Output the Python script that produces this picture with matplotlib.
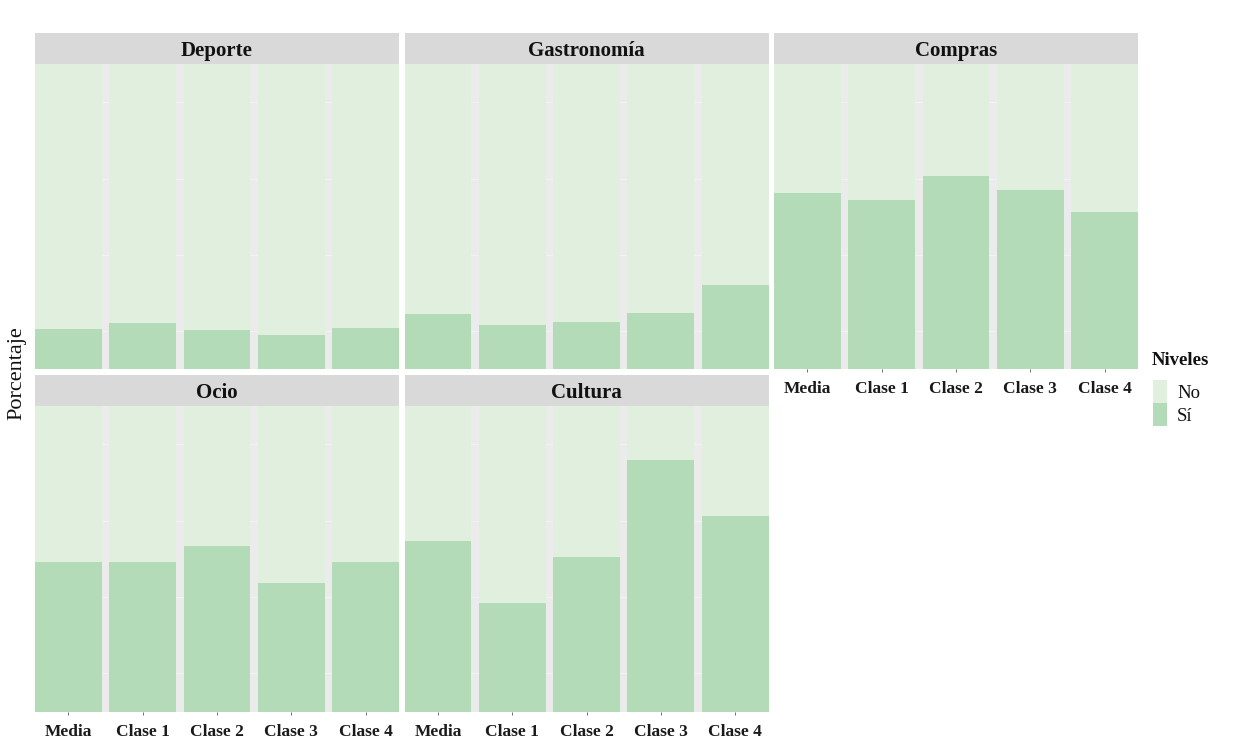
import matplotlib
matplotlib.use("Agg")
import matplotlib.pyplot as plt
from matplotlib.patches import Rectangle
import numpy as np

plt.rcParams['font.family'] = ['Liberation Serif', 'DejaVu Serif']

categorias = ["Deporte", "Gastronomía", "Compras", "Ocio", "Cultura"]
grupos = ["Media", "Clase 1", "Clase 2", "Clase 3", "Clase 4"]
si_deporte = [13.3, 15.3, 12.8, 11.1, 13.6]
si_gastronomia = [18.1, 14.6, 15.4, 18.6, 27.7]
si_compras = [57.7, 55.6, 63.3, 58.7, 51.5]
si_ocio = [48.9, 48.9, 54.2, 42.0, 49.1]
si_cultura = [55.8, 35.5, 50.7, 82.3, 64.0]
niveles = ["No", "Sí"]

series_si = [si_deporte, si_gastronomia, si_compras, si_ocio, si_cultura]

C_NO = "#E1F0DE"
C_SI = "#B3DBB8"
C_BG = "#EBEBEB"
C_STRIP = "#D9D9D9"

W, H = 1234, 756
fig = plt.figure(figsize=(W / 100, H / 100), dpi=100)

col_left = [35, 404.5, 774]
pw = 364
rows = [(33.3, 64.3, 369.3), (375, 406, 711.7)]  # strip top, panel top, panel bottom

def fx(px):
    return px / W

def fy(py):
    return 1 - py / H

pos = [(0, 0), (0, 1), (0, 2), (1, 0), (1, 1)]
show_x = [False, False, True, True, True]

x = np.arange(len(grupos))
for i, (cat, si) in enumerate(zip(categorias, series_si)):
    r, c = pos[i]
    st, pt, pb = rows[r]
    left = col_left[c]
    ax = fig.add_axes([fx(left), fy(pb), pw / W, (pb - pt) / H])
    ax.set_facecolor(C_BG)
    for g in [12.5, 37.5, 62.5, 87.5]:
        ax.axhline(g, color="#F4F4F4", lw=0.6, zorder=0.5)
    si_arr = np.array(si)
    no_arr = 100 - si_arr
    ax.bar(x, si_arr, width=0.9, color=C_SI, zorder=2, linewidth=0)
    ax.bar(x, no_arr, bottom=si_arr, width=0.9, color=C_NO, zorder=2, linewidth=0)
    ax.set_xlim(-0.45, len(grupos) - 0.55)
    ax.set_ylim(0, 100)
    ax.set_yticks([])
    for s in ax.spines.values():
        s.set_visible(False)
    if show_x[i]:
        ax.set_xticks(x)
        ax.set_xticklabels(grupos, fontsize=12.5, fontweight="bold", color="#1a1a1a")
        ax.tick_params(axis="x", length=2.5, width=0.6, color="#555555", pad=6)
    else:
        ax.set_xticks([])
    # strip
    sax = fig.add_axes([fx(left), fy(pt), pw / W, (pt - st) / H])
    sax.set_facecolor(C_STRIP)
    sax.set_xticks([])
    sax.set_yticks([])
    for s in sax.spines.values():
        s.set_visible(False)
    sax.text(0.5, 0.42, cat, ha="center", va="center", fontsize=15,
             fontweight="bold", color="#111111", transform=sax.transAxes)

# y-axis title
fig.text(fx(17), fy(373), "Porcentaje", rotation=90, ha="center", va="center",
         fontsize=16, color="#111111")

# legend
fig.text(fx(1152), fy(361), "Niveles", ha="left", va="center", fontsize=13.5,
         fontweight="bold", color="#111111")
leg_colors = [C_NO, C_SI]
key_tops = [380, 403.3]
for lab, col, kt in zip(niveles, leg_colors, key_tops):
    fig.patches.append(Rectangle((fx(1152.7), fy(kt + 22.7)), 14.5 / W, 22.7 / H,
                                 transform=fig.transFigure, facecolor=col,
                                 edgecolor="none"))
    fig.text(fx(1177), fy(kt + 13), lab, ha="left", va="center", fontsize=13.5,
             color="#111111")

fig.savefig("out.png", dpi=100, facecolor="white")
